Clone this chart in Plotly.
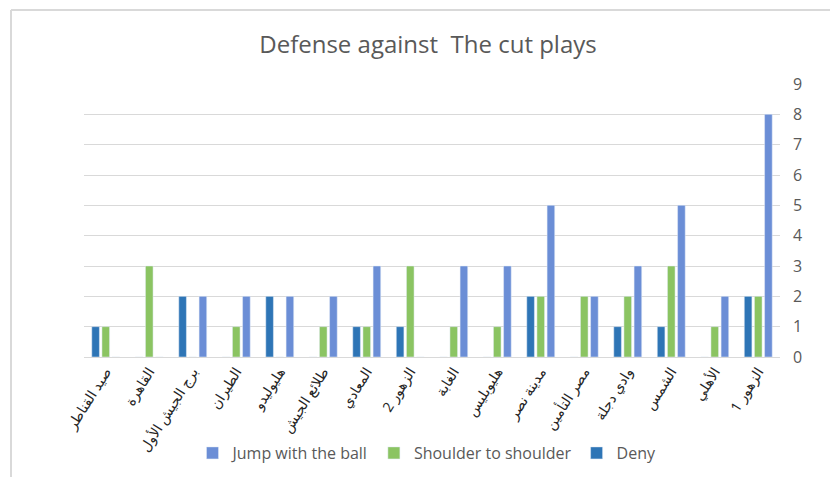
import plotly.graph_objects as go

categories = ["صيد القناطر", "القاهرة", "برج الجيش الأول", "الطيران", "هليوليدو",
              "طلائع الجيش", "المعادي", "الزهور 2", "الغابة", "هليوبليس",
              "مدينة نصر", "مصر التأمين", "وادي دجلة", "الشمس", "الأهلي", "الزهور 1"]
deny = [1, 0, 2, 0, 2, 0, 1, 1, 0, 0, 2, 0, 1, 1, 0, 2]
shoulder = [1, 3, 0, 1, 0, 1, 1, 3, 1, 1, 2, 2, 2, 3, 1, 2]
jump = [0, 0, 2, 2, 2, 2, 3, 0, 3, 3, 5, 2, 3, 5, 2, 8]
y_ticks = list(range(0, 10))

fig = go.Figure()
fig.add_trace(go.Bar(x=categories, y=deny, name="Deny", marker_color="#2E75B6"))
fig.add_trace(go.Bar(x=categories, y=shoulder, name="Shoulder to shoulder", marker_color="#8BC462"))
fig.add_trace(go.Bar(x=categories, y=jump, name="Jump with the ball", marker_color="#6B8ED6"))

# page body adds an 8px offset; work in page coords minus 8
OFF = 8
W, H = 838 - OFF, 477 - OFF
L, T = 84 - OFF, 84 - OFF
B = H - (357 - OFF)
R = W - (780 - OFF)
pw, ph = W - L - R, H - T - B

def px(x):
    return (x - OFF - L) / pw

def py(y):
    return (H - B - (y - OFF)) / ph

fig.update_layout(
    width=W, height=H,
    margin=dict(l=L, r=R, t=T, b=B, autoexpand=False),
    paper_bgcolor="white", plot_bgcolor="white",
    barmode="group", bargap=0.3, bargroupgap=0.25,
    title=dict(text="Defense against  The cut plays", x=(428 - OFF) / W, xanchor="center",
               y=1 - (45 - OFF) / H, yanchor="middle",
               font=dict(family="Open Sans, sans-serif", size=24, color="#595959")),
    font=dict(family="Open Sans, sans-serif", color="#595959"),
    xaxis=dict(tickangle=-58, automargin=False,
               tickfont=dict(size=14, color="#262626", family="Noto Sans, DejaVu Sans"),
               showgrid=False, showline=True, linecolor="#d9d9d9", ticks=""),
    yaxis=dict(side="right", range=[0, 9], tickvals=y_ticks, showgrid=True, gridcolor="#d9d9d9",
               automargin=False, zeroline=False, tickfont=dict(size=16, color="#595959"),
               ticklabelstandoff=12),
    legend=dict(orientation="h", traceorder="reversed", x=(427 - OFF) / W, xanchor="center",
                xref="container", y=1 - (453 - OFF) / H, yref="container", yanchor="middle",
                font=dict(size=16, color="#595959")),
    shapes=[
        dict(type="line", xref="paper", yref="paper", x0=px(11), x1=px(11), y0=py(10), y1=py(477),
             line=dict(color="#d9d9d9", width=2)),
        dict(type="line", xref="paper", yref="paper", x0=px(11), x1=px(838), y0=py(10), y1=py(10),
             line=dict(color="#d9d9d9", width=2)),
    ],
)

fig.write_html("out.html")
